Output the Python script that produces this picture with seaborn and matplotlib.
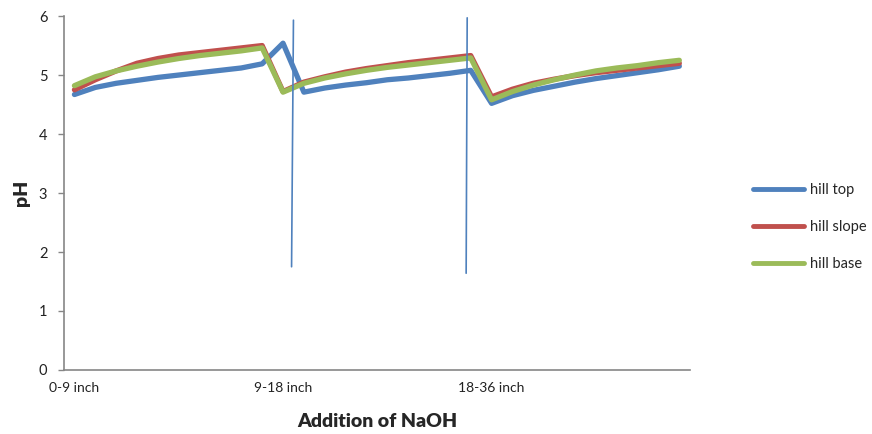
import numpy as np
import pandas as pd
import matplotlib
matplotlib.use('Agg')
import matplotlib.pyplot as plt
from matplotlib.ticker import FixedLocator
import seaborn as sns

# 30 additions of NaOH, labelled every 10th step by depth
depth_labels = ['0-9 inch', '9-18 inch', '18-36 inch']
n_steps = 30

hill_top = [4.67, 4.79, 4.86, 4.91, 4.96, 5.00, 5.04, 5.08, 5.12, 5.19,
            5.54, 4.71, 4.78, 4.83, 4.87, 4.92, 4.95, 4.99, 5.03, 5.08,
            4.52, 4.65, 4.74, 4.81, 4.88, 4.94, 4.99, 5.04, 5.09, 5.15]
hill_slope = [4.75, 4.92, 5.07, 5.20, 5.28, 5.34, 5.38, 5.42, 5.46, 5.50,
              4.72, 4.88, 4.97, 5.05, 5.11, 5.16, 5.21, 5.25, 5.29, 5.33,
              4.63, 4.76, 4.86, 4.93, 4.99, 5.04, 5.08, 5.12, 5.16, 5.20]
hill_base = [4.82, 4.97, 5.07, 5.15, 5.22, 5.28, 5.33, 5.37, 5.41, 5.46,
             4.71, 4.86, 4.95, 5.02, 5.08, 5.13, 5.17, 5.21, 5.25, 5.29,
             4.58, 4.72, 4.83, 4.92, 5.00, 5.07, 5.12, 5.16, 5.21, 5.25]

series_names = ['hill top', 'hill slope', 'hill base']
colors = ['#4F81BD', '#C0504D', '#9BBB59']

# hand-drawn divider lines on the chart (x in step units, y in pH)
divider_x = [(10.50, 10.41), (18.83, 18.78)]
divider_y = [(5.93, 1.75), (5.97, 1.64)]

rows = []
for name, vals in zip(series_names, [hill_top, hill_slope, hill_base]):
    for i, v in enumerate(vals):
        rows.append({'step': i, 'pH': v, 'site': name})
df = pd.DataFrame(rows)

sns.set_style('white')
plt.rcParams['font.family'] = ['Lato', 'DejaVu Sans']

fig = plt.figure(figsize=(8.72, 4.34), dpi=100)
ax = fig.add_axes([0.0734, 0.1475, 0.7176, 0.8155])

sns.lineplot(data=df, x='step', y='pH', hue='site', hue_order=series_names,
             palette=colors, linewidth=3.8, ax=ax, legend=False)

for xs, ys in zip(divider_x, divider_y):
    ax.plot(xs, ys, color='#4F81BD', linewidth=1.2)

ax.set_xlim(-0.5, n_steps - 0.5)
ax.set_ylim(0, 6)
ax.set_yticks(range(7))
ax.set_xticks([0, 10, 20])
ax.set_xticklabels(depth_labels)
ax.xaxis.set_minor_locator(FixedLocator(np.arange(-0.5, n_steps, 1)))
ax.tick_params(axis='x', which='major', length=0, pad=9, labelsize=10, colors='#222222')
ax.tick_params(axis='x', which='minor', length=4, width=1, color='#868686', direction='out')
ax.tick_params(axis='y', length=4, width=1, color='#868686', direction='out', pad=8,
               labelsize=10.5, labelcolor='#222222', left=True)

for side in ['top', 'right']:
    ax.spines[side].set_visible(False)
for side in ['left', 'bottom']:
    ax.spines[side].set_color('#868686')
    ax.spines[side].set_linewidth(1.2)

ax.set_xlabel('Addition of NaOH', fontsize=14, fontweight='heavy', labelpad=13)
ax.set_ylabel('pH', fontsize=14, fontweight='heavy', labelpad=6)

handles = [plt.Line2D([0], [0], color=c, linewidth=3.5, solid_capstyle='round') for c in colors]
fig.legend(handles, series_names, loc='center left', bbox_to_anchor=(0.849, 0.477),
           frameon=False, fontsize=10.5, handlelength=3.5, labelspacing=1.6,
           handletextpad=0.4)

fig.savefig('out.png', dpi=100)
